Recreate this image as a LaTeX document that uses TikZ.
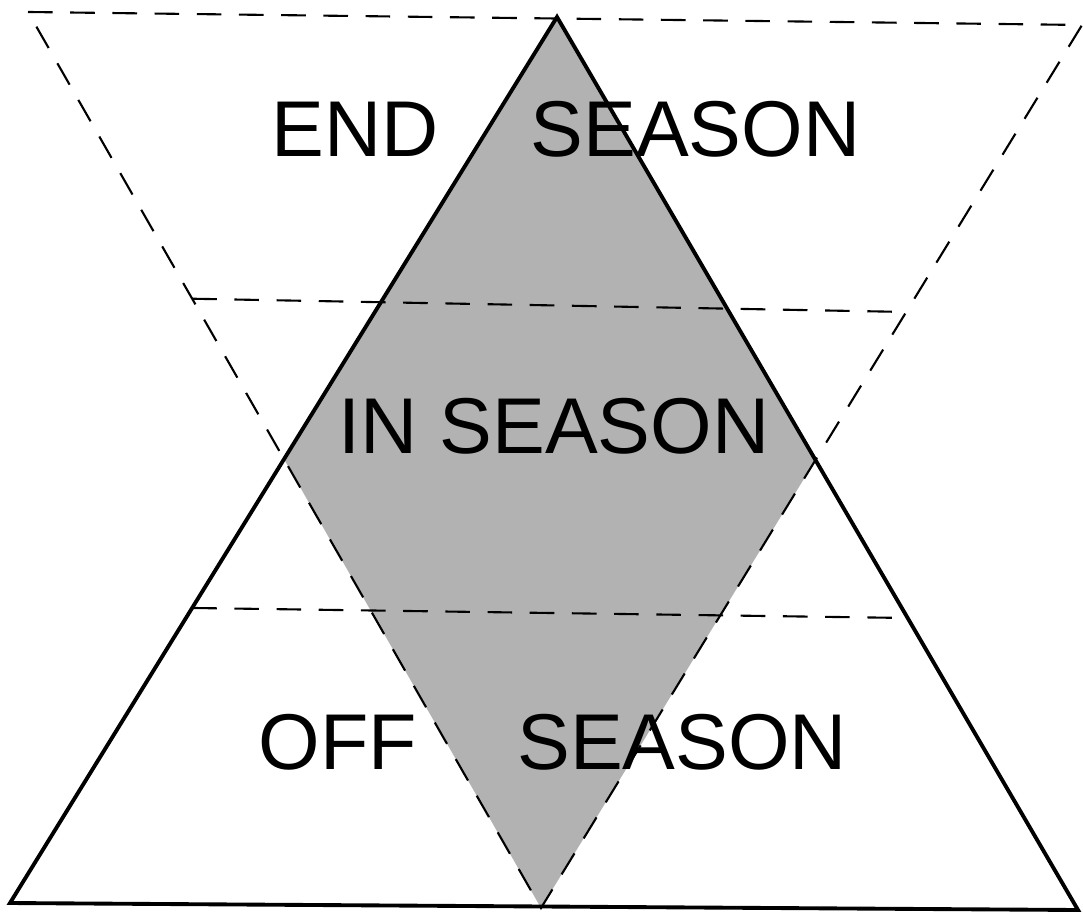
\documentclass[tikz,border=0pt]{standalone}
\usepackage{fontspec}
\setmainfont{Liberation Sans}
\usetikzlibrary{calc}
\begin{document}
\begin{tikzpicture}[x=0.01cm,y=-0.01cm]
		% Styles (MODIFIABLES)
		\tikzstyle{trait}=[line width=1.1pt,line join=miter]
		\tikzstyle{pointille}=[line width=0.6pt,dash pattern=on 7pt off 5pt]
		\tikzstyle{trame}=[fill=black!30]
		\tikzstyle{etiquette}=[font=\fontsize{22.5}{22.5}\selectfont,inner sep=0pt]
		% Cadre
		\useasboundingbox (0,0) rectangle (1083,913);
		% Sommets des deux triangles
		\coordinate (Sommet) at (557,17);
		\coordinate (BasG) at (10,903);
		\coordinate (BasD) at (1078,910);
		\coordinate (HautG) at (28,12);
		\coordinate (HautD) at (1082,25);
		\coordinate (Pointe) at (541,908);
		% Extremites des separations
		\coordinate (SepAG) at ($(HautG)!0.32!(Pointe)$);
		\coordinate (SepAD) at ($(HautD)!0.325!(Pointe)$);
		\coordinate (SepBG) at ($(BasG)!0.333!(Sommet)$);
		\coordinate (SepBD) at ($(BasD)!0.327!(Sommet)$);
		% Zone commune
		\begin{scope}
			\clip (Sommet)--(BasG)--(BasD)--cycle;
			\fill[trame] (HautG)--(HautD)--(Pointe)--cycle;
		\end{scope}
		% Triangle renverse et separations
		\draw[pointille] (HautG)--(HautD)--(Pointe)--cycle;
		\draw[pointille] (SepAG)--(SepAD);
		\draw[pointille] (SepBG)--(SepBD);
		% Triangle
		\draw[trait] (Sommet)--(BasG)--(BasD)--cycle;
		% Etiquettes
		\node[etiquette] (fin) at (566,129) {END\hspace{0.92cm}SEASON};
		\node[etiquette] (pleine) at (554,426) {IN SEASON};
		\node[etiquette] (hors) at (553,742) {OFF\hspace{1.0cm}SEASON};
\end{tikzpicture}
\end{document}
